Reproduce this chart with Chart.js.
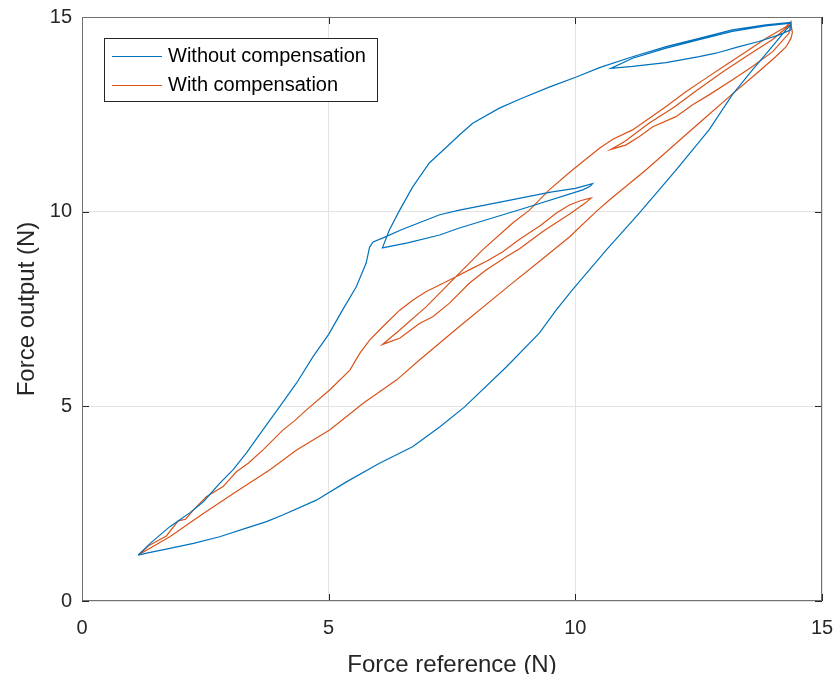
<!DOCTYPE html>
<html>
<head>
<meta charset="utf-8">
<script src="https://cdn.jsdelivr.net/npm/chart.js@4.4.1/dist/chart.umd.min.js"></script>
<style>
    html, body { margin: 0; padding: 0; background: #fff; }
    #wrap { width: 837px; height: 674px; }
</style>
</head>
<body>
<div id="wrap"><canvas id="forceChart" width="837" height="674"></canvas></div>
<script>
// Without compensation: up to 10.35, back to 6.1, up to 14.4, back to 10.7, up to 14.4, down to 1.2
const noCompX = [
    1.14, 1.4, 1.78, 2.0, 2.19, 2.46, 2.79, 3.06, 3.33, 3.67, 4.0, 4.35, 4.68, 5.0, 5.28, 5.56, 5.76, 5.83, 5.9, 6.09,
    6.5, 7.25, 7.65, 8.5, 9.5, 10.0, 10.35,
    10.3, 10.15, 9.0, 7.65, 7.25, 6.6, 6.09,
    6.23, 6.44, 6.70, 7.04, 7.39, 7.65, 7.92, 8.46, 8.93, 9.47, 10.02, 10.49, 11.16, 11.84, 12.51, 13.18, 13.86, 14.37,
    14.37, 14.13, 13.72, 13.32, 12.85, 12.51, 11.84, 11.16, 10.72,
    11.16, 11.84, 12.51, 13.18, 13.86, 14.37,
    14.37, 14.27, 13.93, 13.59, 13.18, 12.71, 12.04, 11.3, 10.63, 9.94, 9.61, 9.27, 8.6, 7.75, 7.25, 6.70, 6.03, 5.36, 4.75, 4.07, 3.74, 3.33, 2.79, 2.26, 1.78, 1.31, 1.14
];
const noCompY = [
    1.18, 1.5, 1.91, 2.1, 2.27, 2.55, 3.02, 3.37, 3.8, 4.4, 4.98, 5.6, 6.27, 6.85, 7.47, 8.07, 8.68, 9.09, 9.22, 9.32,
    9.55, 9.92, 10.04, 10.25, 10.5, 10.6, 10.72,
    10.65, 10.56, 10.1, 9.58, 9.4, 9.2, 9.07,
    9.53, 10.04, 10.63, 11.25, 11.66, 11.97, 12.27, 12.66, 12.92, 13.2, 13.46, 13.7, 13.98, 14.24, 14.45, 14.67, 14.8, 14.86,
    14.67, 14.54, 14.37, 14.24, 14.07, 13.98, 13.83, 13.73, 13.68,
    13.94, 14.2, 14.42, 14.63, 14.77, 14.84,
    14.8, 14.67, 14.15, 13.64, 13.0, 12.1, 11.07, 9.97, 9.02, 7.99, 7.47, 6.88, 6.01, 4.98, 4.47, 3.96, 3.54, 3.06, 2.59, 2.21, 2.04, 1.87, 1.65, 1.48, 1.35, 1.23, 1.18
];

// With compensation, same reference sequence
const compX = [
    1.14, 1.35, 1.71, 1.95, 2.1, 2.26, 2.52, 2.86, 3.13, 3.37, 3.67, 4.07, 4.3, 4.55, 5.02, 5.43, 5.63, 5.83, 6.1, 6.44, 6.71, 6.98, 7.32, 7.58, 7.92, 8.19, 8.53, 8.87, 9.3, 9.61, 9.88, 10.1, 10.32,
    10.2, 9.9, 9.34, 8.87, 8.6, 8.19, 7.85, 7.45, 7.11, 6.84, 6.44, 6.09,
    6.44, 6.98, 7.58, 8.12, 8.73, 9.07, 9.47, 9.94, 10.49, 10.76, 11.16, 11.5, 11.84, 12.24, 12.65, 13.05, 13.46, 13.86, 14.27, 14.37,
    14.33, 14.0, 13.59, 13.18, 12.71, 12.37, 12.04, 11.57, 11.3, 11.02, 10.72,
    11.0, 11.5, 12.0, 12.5, 13.0, 13.5, 14.0, 14.37,
    14.4, 14.37, 14.27, 14.06, 13.72, 13.18, 12.65, 12.17, 11.43, 10.69, 10.42, 9.88, 9.3, 8.66, 7.65, 6.84, 6.38, 5.70, 5.02, 4.35, 3.81, 3.13, 2.46, 1.78, 1.14
];
const compY = [
    1.18, 1.42, 1.67, 2.06, 2.1, 2.34, 2.68, 2.94, 3.32, 3.54, 3.88, 4.39, 4.62, 4.91, 5.42, 5.93, 6.36, 6.7, 7.05, 7.47, 7.73, 7.95, 8.16, 8.33, 8.55, 8.72, 8.97, 9.29, 9.65, 9.96, 10.17, 10.28, 10.35,
    10.22, 9.95, 9.49, 9.05, 8.84, 8.5, 8.16, 7.65, 7.3, 7.13, 6.75, 6.59,
    6.96, 7.56, 8.33, 9.02, 9.71, 10.04, 10.56, 11.07, 11.63, 11.86, 12.1, 12.4, 12.7, 13.08, 13.43, 13.77, 14.11, 14.45, 14.75, 14.88,
    14.58, 14.11, 13.73, 13.38, 13.0, 12.74, 12.44, 12.18, 11.93, 11.71, 11.6,
    11.8, 12.28, 12.68, 13.15, 13.6, 14.02, 14.42, 14.82,
    14.6, 14.45, 14.23, 13.98, 13.6, 13.02, 12.43, 11.9, 11.07, 10.3, 10.0, 9.35, 8.75, 8.1, 7.05, 6.19, 5.68, 5.08, 4.39, 3.88, 3.37, 2.81, 2.25, 1.65, 1.18
];

const seriesLabels = ['Without compensation', 'With compensation'];
const xTicks = [0, 5, 10, 15];
const yTicks = [0, 5, 10, 15];

const FONT = "'Liberation Sans', Arial, Helvetica, sans-serif";

function toPoints(xs, ys) {
    let pts = [];
    for (let i = 0; i < xs.length; i++) {
        pts.push({x: xs[i], y: ys[i]});
    }
    return pts;
}

// keep tick labels from eating into the plot box
function noLabelPadding(scale) {
    scale.paddingLeft = 0;
    scale.paddingRight = 0;
    scale.paddingTop = 0;
    scale.paddingBottom = 0;
}

// matlab style box, inward ticks and boxed legend
const boxAndLegend = {
    id: 'boxAndLegend',
    afterDraw(chart) {
        const ctx = chart.ctx;
        const a = chart.chartArea;
        const sx = chart.scales.x, sy = chart.scales.y;
        ctx.save();

        ctx.strokeStyle = '#262626';
        ctx.lineWidth = 1;
        ctx.beginPath();
        xTicks.forEach(v => {
            const px = Math.round(sx.getPixelForValue(v)) + 0.5;
            ctx.moveTo(px, a.bottom); ctx.lineTo(px, a.bottom - 7);
            ctx.moveTo(px, a.top); ctx.lineTo(px, a.top + 7);
        });
        yTicks.forEach(v => {
            const py = Math.round(sy.getPixelForValue(v)) + 0.5;
            ctx.moveTo(a.left, py); ctx.lineTo(a.left + 7, py);
            ctx.moveTo(a.right, py); ctx.lineTo(a.right - 7, py);
        });
        ctx.stroke();

        ctx.strokeStyle = '#707070';
        ctx.strokeRect(a.left + 0.5, a.top + 0.5, a.right - a.left - 1, a.bottom - a.top - 1);

        // legend
        const lx = a.left + 22, ly = a.top + 21, lw = 273, lh = 63;
        ctx.fillStyle = '#fff';
        ctx.fillRect(lx, ly, lw, lh);
        ctx.strokeStyle = '#262626';
        ctx.strokeRect(lx + 0.5, ly + 0.5, lw, lh);
        ctx.font = '20px ' + FONT;
        ctx.textBaseline = 'middle';
        ctx.textAlign = 'left';
        chart.data.datasets.forEach((ds, i) => {
            const rowY = ly + 18 + i * 29;
            ctx.strokeStyle = ds.borderColor;
            ctx.lineWidth = 1.2;
            ctx.beginPath();
            ctx.moveTo(lx + 8, rowY + 0.5);
            ctx.lineTo(lx + 58, rowY + 0.5);
            ctx.stroke();
            ctx.fillStyle = '#000';
            ctx.fillText(ds.label, lx + 64, rowY);
        });
        ctx.restore();
    }
};

let ctx = document.getElementById('forceChart').getContext('2d');
let forceChart = new Chart(ctx, {
    type: 'scatter',
    data: {
        datasets: [{
            label: seriesLabels[0],
            data: toPoints(noCompX, noCompY),
            showLine: true,
            borderColor: '#0072BD',
            backgroundColor: '#0072BD',
            borderWidth: 1.2,
            pointRadius: 0,
            tension: 0
        }, {
            label: seriesLabels[1],
            data: toPoints(compX, compY),
            showLine: true,
            borderColor: '#D95319',
            backgroundColor: '#D95319',
            borderWidth: 1.2,
            pointRadius: 0,
            tension: 0
        }]
    },
    options: {
        responsive: false,
        animation: false,
        layout: {
            padding: {top: 17, right: 15, left: 0, bottom: 0}
        },
        plugins: {
            legend: {display: false},
            tooltip: {enabled: false}
        },
        scales: {
            x: {
                type: 'linear',
                position: 'bottom',
                min: 0,
                max: 15,
                afterFit: function (scale) { scale.height = 73; noLabelPadding(scale); },
                afterBuildTicks: function (scale) { scale.ticks = xTicks.map(v => ({value: v})); },
                grid: {color: '#e3e3e3', drawTicks: false},
                border: {display: false},
                ticks: {
                    padding: 15,
                    color: '#262626',
                    font: {family: FONT, size: 20}
                },
                title: {
                    display: true,
                    text: 'Force reference (N)',
                    color: '#262626',
                    font: {family: FONT, size: 24, lineHeight: 1},
                    padding: {top: 0, bottom: -3}
                }
            },
            y: {
                type: 'linear',
                position: 'left',
                min: 0,
                max: 15,
                afterFit: function (scale) { scale.width = 82; noLabelPadding(scale); },
                afterBuildTicks: function (scale) { scale.ticks = yTicks.map(v => ({value: v})); },
                grid: {color: '#e3e3e3', drawTicks: false},
                border: {display: false},
                ticks: {
                    padding: 10,
                    color: '#262626',
                    font: {family: FONT, size: 20}
                },
                title: {
                    display: true,
                    text: 'Force output (N)',
                    color: '#262626',
                    font: {family: FONT, size: 24, lineHeight: 1},
                    padding: {top: 15, bottom: 0}
                }
            }
        }
    },
    plugins: [boxAndLegend]
});
</script>
</body>
</html>
